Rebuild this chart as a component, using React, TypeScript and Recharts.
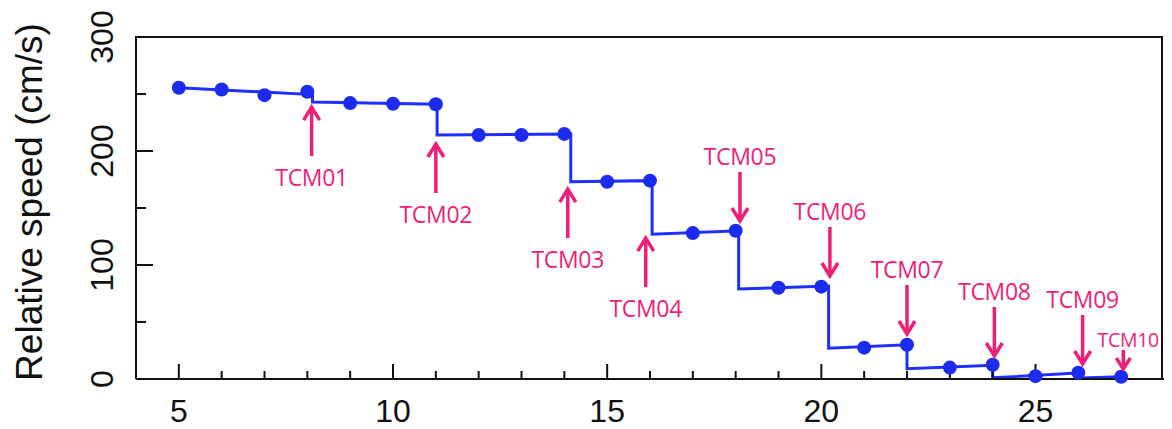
import React from 'react';
import { ComposedChart, Line, Scatter, XAxis, YAxis } from 'recharts';

// Measured points (day vs relative speed, cm/s)
const pointDays = [5, 6, 7, 8, 9, 10, 11, 12, 13, 14, 15, 16, 17, 18, 19, 20, 21, 22, 23, 24, 25, 26, 27];
const pointSpeeds = [255.5, 254, 249, 252, 242, 241.5, 241, 214, 214, 215, 173, 174, 128, 130, 80, 81, 27.5, 30, 10, 12.5, 2.5, 5.5, 2];

// Fitted step line
const fitDays = [5, 8.12, 8.12, 11.03, 11.03, 14.15, 14.15, 16.05, 16.05, 18.07, 18.07, 20.17, 20.17, 22.0, 22.0, 24.0, 24.0, 26.05, 26.05, 27];
const fitSpeeds = [255.5, 249.5, 243, 241, 214, 215, 173, 174, 127, 130, 79, 81.5, 27, 30, 9, 12, 1, 5.5, 0.8, 2];

// Trajectory correction manoeuvres
const tcmLabels = ['TCM01', 'TCM02', 'TCM03', 'TCM04', 'TCM05', 'TCM06', 'TCM07', 'TCM08', 'TCM09', 'TCM10'];
const tcmDays = [8.1, 11.0, 14.08, 15.9, 18.1, 20.2, 22.0, 24.04, 26.1, 27.05];
const tcmTipSpeeds = [239.4, 207, 167.5, 124.5, 137.7, 89.5, 38.6, 19.3, 12.3, 7.9];
const tcmDirections = ['up', 'up', 'up', 'up', 'down', 'down', 'down', 'down', 'down', 'down'];
const tcmSmall = [false, false, false, false, false, false, false, false, false, true];

// Axes
const xDomain = [4, 28];
const xTicks = [5, 6, 7, 8, 9, 10, 11, 12, 13, 14, 15, 16, 17, 18, 19, 20, 21, 22, 23, 24, 25, 26, 27];
const xLabelTicks = [5, 10, 15, 20, 25];
const yDomain = [0, 300];
const yTicks = [50, 100, 150, 200, 250];
const yLabelTicks = [0, 100, 200, 300];
const yTitle = 'Relative speed (cm/s)';

const BLUE_LINE = '#1f2fff';
const BLUE_DOT = '#1b2bf0';
const PINK = '#ec1f79';
const AXIS = '#111';
const FONT = '"Liberation Sans", Arial, Helvetica, sans-serif';

const pointData = pointDays.map((x, i) => ({ x, y: pointSpeeds[i] }));
const fitData = fitDays.map((x, i) => ({ x, y: fitSpeeds[i] }));
const tcmData = tcmDays.map((x, i) => ({
  x,
  y: tcmTipSpeeds[i],
  label: tcmLabels[i],
  dir: tcmDirections[i],
  small: tcmSmall[i],
}));
// tick marks of the frame, anchored at the top and bottom edges
const xTickData = xTicks.map((x) => ({ x, y: yDomain[0], y2: yDomain[1], major: xLabelTicks.includes(x) }));
// tick marks of the frame, anchored at the left and right edges
const yTickData = yTicks.map((y) => ({ x: xDomain[0], y, major: yLabelTicks.includes(y) }));

const axisLineStyle = { stroke: AXIS, strokeWidth: 2 };

const BottomLabel = (props: any) => {
  const x = Number(props.x);
  const y = Number(props.y);
  return (
    <text x={x} y={y + 43} textAnchor="middle" fontSize={32} fontFamily={FONT} fill={AXIS}>
      {props.payload.value}
    </text>
  );
};

const LeftLabel = (props: any) => {
  const x = Number(props.x);
  const y = Number(props.y);
  const bx = x - 23;
  return (
    <text
      x={bx}
      y={y}
      textAnchor="middle"
      fontSize={32}
      fontFamily={FONT}
      fill={AXIS}
      transform={`rotate(-90, ${bx}, ${y})`}
    >
      {props.payload.value}
    </text>
  );
};

// x ticks: one mark pointing up from the bottom edge and one pointing down from the top edge.
// The plot height is taken from the distance between the bottom edge and the top edge
// via the y scale (y = 0 -> bottom; the top edge is read from the scatter's yAxis).
const XTickMark = (props: any) => {
  const { cx, cy, payload, yAxis } = props;
  const len = payload.major ? 15 : 8;
  let topY = NaN;
  if (yAxis && typeof yAxis.scale === 'function') {
    topY = Number(yAxis.scale(payload.y2));
  }
  if (!isFinite(topY) && yAxis && typeof yAxis.y === 'number') {
    topY = yAxis.y;
  }
  return (
    <g>
      <path d={`M${cx},${cy} L${cx},${cy - len}`} stroke={AXIS} strokeWidth={2} fill="none" />
      {isFinite(topY) && (
        <path d={`M${cx},${topY} L${cx},${topY + len}`} stroke={AXIS} strokeWidth={2} fill="none" />
      )}
    </g>
  );
};

const YTickMark = (props: any) => {
  const { cx, cy, payload, xAxis } = props;
  let rightX = NaN;
  if (xAxis && typeof xAxis.scale === 'function') {
    rightX = Number(xAxis.scale(xDomain[1]));
  }
  const len = payload.major ? 17 : 10;
  return (
    <g>
      <path d={`M${cx},${cy} L${cx + len},${cy}`} stroke={AXIS} strokeWidth={2} fill="none" />
      {isFinite(rightX) && (
        <path d={`M${rightX},${cy} L${rightX - 16},${cy}`} stroke={AXIS} strokeWidth={2} fill="none" />
      )}
    </g>
  );
};

const Dot = (props: any) => {
  const { cx, cy } = props;
  return <circle cx={cx} cy={cy} r={7} fill={BLUE_DOT} />;
};

const TcmMarker = (props: any) => {
  const { cx, cy, payload } = props;
  const small = payload.small;
  const len = small ? 20 : 50;
  const hw = small ? 7 : 8;
  const hh = small ? 11 : 13;
  const fs = small ? 19.5 : 23;
  const sw = 3.5;
  if (payload.dir === 'up') {
    return (
      <g>
        <line x1={cx} y1={cy + 2} x2={cx} y2={cy + len} stroke={PINK} strokeWidth={sw} />
        <polyline
          points={`${cx - hw},${cy + hh + 1} ${cx},${cy + 1} ${cx + hw},${cy + hh + 1}`}
          fill="none"
          stroke={PINK}
          strokeWidth={sw}
        />
        <text
          x={cx}
          y={cy + len + 30}
          textAnchor="middle"
          fontSize={fs}
          fontFamily='"Open Sans", sans-serif'
          letterSpacing={-0.3}
          fill={PINK}
        >
          {payload.label}
        </text>
      </g>
    );
  }
  return (
    <g>
      <line x1={cx} y1={cy - 2} x2={cx} y2={cy - len} stroke={PINK} strokeWidth={sw} />
      <polyline
        points={`${cx - hw},${cy - hh - 1} ${cx},${cy - 1} ${cx + hw},${cy - hh - 1}`}
        fill="none"
        stroke={PINK}
        strokeWidth={sw}
      />
      <text
        x={small ? cx + 5 : cx}
        y={cy - len - (small ? 3 : 7)}
        textAnchor="middle"
        fontSize={fs}
        fontFamily='"Open Sans", sans-serif'
        letterSpacing={-0.3}
        fill={PINK}
      >
        {payload.label}
      </text>
    </g>
  );
};

export default function App() {
  return (
    <div style={{ position: 'absolute', left: 0, top: 0, width: 1172, height: 429, background: '#fff' }}>
      <ComposedChart width={1172} height={429} margin={{ top: 37, right: 8, bottom: 0, left: 0 }}>
        <XAxis
          xAxisId="bottom"
          dataKey="x"
          type="number"
          domain={xDomain}
          ticks={xLabelTicks}
          interval={0}
          orientation="bottom"
          height={50}
          axisLine={axisLineStyle}
          tickLine={false}
          tickSize={0}
          tickMargin={0}
          tick={BottomLabel}
        />
        <YAxis
          yAxisId="left"
          dataKey="y"
          type="number"
          domain={yDomain}
          ticks={yLabelTicks}
          interval={0}
          orientation="left"
          width={136}
          axisLine={axisLineStyle}
          tickLine={false}
          tickSize={0}
          tickMargin={0}
          tick={LeftLabel}
        />
        <Line
          xAxisId="bottom"
          yAxisId="left"
          data={fitData}
          dataKey="y"
          type="linear"
          stroke={BLUE_LINE}
          strokeWidth={3}
          dot={false}
          activeDot={false}
          isAnimationActive={false}
        />
        <Scatter
          xAxisId="bottom"
          yAxisId="left"
          data={xTickData}
          dataKey="y"
          shape={XTickMark}
          isAnimationActive={false}
        />
        <Scatter
          xAxisId="bottom"
          yAxisId="left"
          data={yTickData}
          dataKey="y"
          shape={YTickMark}
          isAnimationActive={false}
        />
        <Scatter
          xAxisId="bottom"
          yAxisId="left"
          data={pointData}
          dataKey="y"
          shape={Dot}
          isAnimationActive={false}
        />
        <Scatter
          xAxisId="bottom"
          yAxisId="left"
          data={tcmData}
          dataKey="y"
          shape={TcmMarker}
          isAnimationActive={false}
        />
      </ComposedChart>
      {/* frame top and right edges (the chart's plot box) */}
      <div
        style={{
          position: 'absolute',
          left: 135,
          top: 36,
          width: 1028,
          height: 342,
          border: `2px solid ${AXIS}`,
          borderLeft: 'none',
          borderBottom: 'none',
          pointerEvents: 'none',
          boxSizing: 'border-box',
        }}
      />
      <svg
        width={60}
        height={429}
        style={{ position: 'absolute', left: 0, top: 0, pointerEvents: 'none' }}
      >
        <text
          x={42}
          y={202}
          textAnchor="middle"
          fontSize={37}
          fontFamily={FONT}
          fill={AXIS}
          transform="rotate(-90, 42, 202)"
        >
          {yTitle}
        </text>
      </svg>
    </div>
  );
}
